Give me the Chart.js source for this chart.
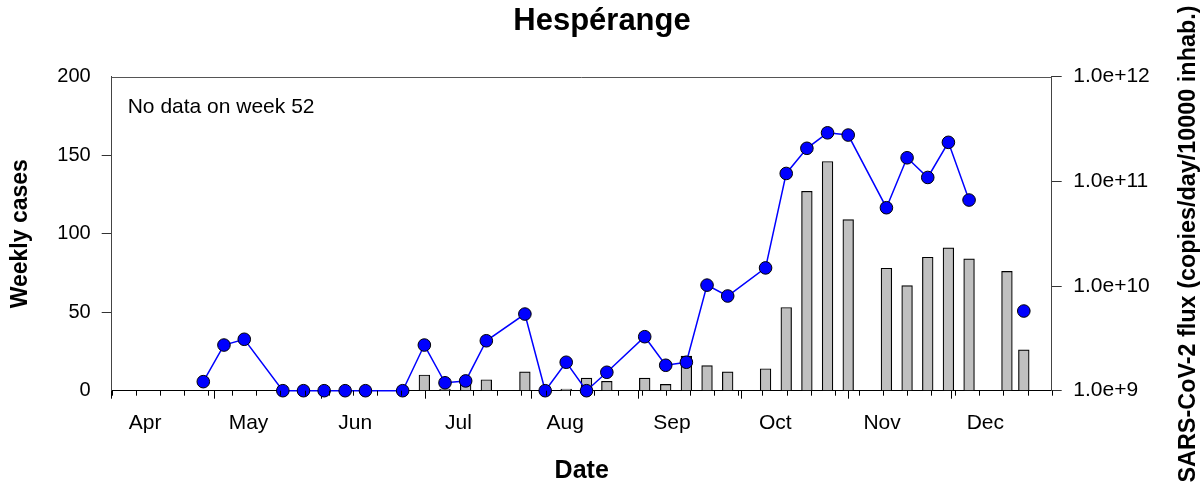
<!DOCTYPE html>
<html>
<head>
<meta charset="utf-8">
<title>Hespérange</title>
<script src="https://cdn.jsdelivr.net/npm/chart.js@4.4.1/dist/chart.umd.min.js"></script>
<style>
  html, body { margin: 0; padding: 0; background: #fff; }
  #wrap { width: 1204px; height: 488px; }
</style>
</head>
<body>
<div id="wrap"><canvas id="chart" width="1204" height="488"></canvas></div>
<script>
// --- DATA ---
// sampling dates, as days after 1 April
const sampleDay = [26.6, 32.6, 38.5, 49.7, 55.7, 61.7, 67.8, 73.7, 84.5,
    90.8, 96.8, 102.8, 108.8, 120.0, 125.9, 132.0, 137.9, 143.8,
    154.8, 160.9, 166.9, 172.9, 178.9, 189.9, 195.9, 201.9, 207.9, 213.9,
    225.0, 231.0, 237.0, 243.0, 249.0, 260.0, 264.9];

// weekly cases (bars, left axis)
const weeklyCases = [null, null, null, null, null, null, null, null, null,
    10, 1, 5, 7, 12, null, 1, 8, 6,
    8, 4, 22, 16, 12, 14, 53, 127, 146, 109,
    78, 67, 85, 91, 84, 76, 26];

// SARS-CoV-2 flux, copies/day/10000 inhab. (points, right axis)
const fluxValues = [1.22e9, 2.73e9, 3.10e9, 1.0e9, 1.0e9, 1.0e9, 1.0e9, 1.0e9, 1.0e9,
    2.73e9, 1.19e9, 1.24e9, 3.0e9, 5.4e9, 1.0e9, 1.87e9, 1.0e9, 1.5e9,
    3.28e9, 1.75e9, 1.87e9, 1.02e10, 8.03e9, 1.49e10, 1.19e11, 2.07e11, 2.91e11, 2.77e11,
    5.6e10, 1.68e11, 1.09e11, 2.36e11, 6.63e10, null, 5.77e9];

// month boundaries (days after 1 April) and their names
const monthStart = [0, 30, 61, 91, 122, 153, 183, 214, 244];
const monthLabels = ['Apr', 'May', 'Jun', 'Jul', 'Aug', 'Sep', 'Oct', 'Nov', 'Dec'];
const fluxTicks = [1e9, 1e10, 1e11, 1e12];

const noteText = 'No data on week 52';
const rightTitle = 'SARS-CoV-2 flux (copies/day/10000 inhab.)';

// --- CHART ---
const FONT = "'Liberation Sans', Arial, Helvetica, sans-serif";
Chart.defaults.font.family = FONT;
Chart.defaults.color = '#000';

const casePoints = sampleDay.map((d, i) => ({ x: d, y: weeklyCases[i] }));
const fluxPoints = sampleDay.map((d, i) => ({ x: d, y: fluxValues[i] }));

// weekly tick marks, top frame, note and right axis title
const extras = {
    id: 'extras',
    afterDraw(chart) {
        const { ctx, chartArea: a } = chart;
        const x = chart.scales.x;
        ctx.save();
        ctx.lineWidth = 1;
        ctx.strokeStyle = '#555';
        ctx.beginPath();
        ctx.moveTo(a.left, Math.round(a.top) + 0.5);
        ctx.lineTo(a.right, Math.round(a.top) + 0.5);
        ctx.stroke();

        ctx.strokeStyle = '#000';
        ctx.beginPath();
        for (let d = 0; d <= x.max; d += 7) {
            const px = Math.round(x.getPixelForValue(d)) + 0.5;
            ctx.moveTo(px, a.bottom);
            ctx.lineTo(px, a.bottom + 5);
        }
        ctx.stroke();

        ctx.fillStyle = '#000';
        ctx.font = '21px ' + FONT;
        ctx.textAlign = 'left';
        ctx.textBaseline = 'alphabetic';
        ctx.fillText(noteText, a.left + 16, a.top + 36);

        ctx.translate(1189, 244);
        ctx.rotate(-Math.PI / 2);
        ctx.font = 'bold 23.4px ' + FONT;
        ctx.textAlign = 'center';
        ctx.textBaseline = 'middle';
        ctx.fillText(rightTitle, 0, 0);
        ctx.restore();
    }
};

new Chart(document.getElementById('chart'), {
    type: 'bar',
    data: {
        datasets: [{
            type: 'line',
            label: 'flux',
            data: fluxPoints,
            yAxisID: 'y2',
            borderColor: '#0000ff',
            borderWidth: 1.5,
            pointRadius: 6.3,
            pointBackgroundColor: '#0000ff',
            pointBorderColor: '#000',
            pointBorderWidth: 1,
            tension: 0,
            spanGaps: false,
            clip: false,
            order: 0
        }, {
            type: 'bar',
            label: 'cases',
            data: casePoints,
            yAxisID: 'y',
            backgroundColor: '#c0c0c0',
            borderColor: '#000',
            borderWidth: 1.2,
            barThickness: 10.7,
            order: 1
        }]
    },
    options: {
        responsive: false,
        animation: false,
        devicePixelRatio: 1,
        layout: { padding: 0 },
        plugins: {
            legend: { display: false },
            tooltip: { enabled: false },
            title: {
                display: true,
                text: 'Hespérange',
                font: { size: 31, weight: 'bold' },
                padding: { top: 3, bottom: 36.5 }
            }
        },
        scales: {
            x: {
                type: 'linear',
                min: 0,
                max: 273,
                offset: false,
                afterBuildTicks: s => { s.ticks = monthStart.map(v => ({ value: v })); },
                afterFit: s => { s.height = 97.3; },
                grid: { drawOnChartArea: false, drawTicks: true, tickLength: 8, tickColor: '#000', offset: false },
                border: { display: true, color: '#000', width: 1 },
                ticks: {
                    autoSkip: false, maxRotation: 0, minRotation: 0,
                    padding: 12, labelOffset: 33.5,
                    font: { size: 21 },
                    callback: (v, i) => monthLabels[i]
                },
                title: { display: true, text: 'Date', font: { size: 25, weight: 'bold' }, padding: { top: 0, bottom: 1.5 } }
            },
            y: {
                position: 'left',
                min: 0,
                max: 200,
                afterFit: s => { s.width = 111.7; },
                grid: {
                    drawOnChartArea: false, tickLength: 10,
                    tickColor: c => (c.tick && (c.tick.value === 0 || c.tick.value === 200)) ? 'rgba(0,0,0,0)' : '#333'
                },
                border: { display: true, color: '#444' },
                ticks: { stepSize: 50, padding: 11, font: { size: 20 } },
                title: { display: true, text: 'Weekly cases', font: { size: 23, weight: 'bold' }, padding: { top: 7, bottom: 0 } }
            },
            y2: {
                type: 'logarithmic',
                position: 'right',
                min: 1e9,
                max: 1e12,
                afterBuildTicks: s => { s.ticks = fluxTicks.map(v => ({ value: v })); },
                afterFit: s => { s.width = 1204 - 1051.7; },
                grid: { drawOnChartArea: false, tickLength: 10, tickColor: '#333' },
                border: { display: true, color: '#444' },
                ticks: {
                    padding: 11.6,
                    font: { size: 21 },
                    callback: v => '1.0e+' + Math.round(Math.log10(v))
                }
            }
        }
    },
    plugins: [extras]
});
</script>
</body>
</html>
